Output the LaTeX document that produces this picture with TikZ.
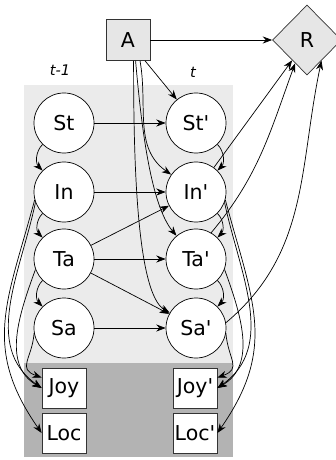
\documentclass[tikz,border=0pt]{standalone}
\usepackage{fontspec}
\setmainfont{DejaVu Sans}[ItalicFont={DejaVu Sans Oblique}]
\usepackage{xcolor}
\usetikzlibrary{arrows.meta, shapes.geometric}
\definecolor{slicegray}{RGB}{235,235,235}
\definecolor{obsgray}{RGB}{179,179,179}
\definecolor{nodegray}{RGB}{230,230,230}
\definecolor{darkgray}{RGB}{51,51,51}
\newcommand{\pr}{\textquotesingle}

\begin{document}
\begin{tikzpicture}[x=0.03cm, y=-0.03cm, >=Stealth,
  state/.style={circle, draw, fill=white, minimum size=1.8cm, inner sep=0pt,
    line width=0.6pt, font=\fontsize{17.5}{20}\selectfont},
  obs/.style={rectangle, draw=darkgray, fill=white, minimum width=1.32cm,
    minimum height=1.2cm, inner sep=0pt, line width=0.6pt, font=\fontsize{17.5}{20}\selectfont},
  arr/.style={-{Stealth[length=8pt, width=6pt]}, line width=0.6pt}]

\useasboundingbox (0,0) rectangle (335,460);

%% time slices
\fill[slicegray] (24,85) rectangle (233,363);
\fill[obsgray] (24,363) rectangle (233,457);
\node[font=\fontsize{12.5}{15}\selectfont\itshape] (prev) at (60,70) {t-1};
\node[font=\fontsize{12.5}{15}\selectfont\itshape] (curr) at (193,72) {t};

%% action and reward
\node[rectangle, draw=darkgray, fill=nodegray, minimum width=1.32cm, minimum height=1.23cm,
      inner sep=0pt, line width=0.6pt, font=\fontsize{17.5}{20}\selectfont] (act) at (128,40) {A};
\node[diamond, draw=darkgray, fill=nodegray, minimum width=2.07cm, minimum height=2.1cm,
      inner sep=0pt, line width=0.6pt, font=\fontsize{17.5}{20}\selectfont] (rew) at (307,40) {R};

%% hidden states, slice t-1
\node[state] (st0) at (64,123) {St};
\node[state] (in0) at (64,192) {In};
\node[state] (ta0) at (64,259) {Ta};
\node[state] (sa0) at (64,328) {Sa};
%% hidden states, slice t
\node[state] (st1) at (196,123) {St\pr};
\node[state] (in1) at (196,192) {In\pr};
\node[state] (ta1) at (196,259) {Ta\pr};
\node[state] (sa1) at (196,328) {Sa\pr};

%% observations
\node[obs] (joy0) at (64,388) {Joy};
\node[obs] (loc0) at (64,433) {Loc};
\node[obs] (joy1) at (195,388) {Joy\pr};
\node[obs] (loc1) at (195,433) {Loc\pr};

%% action
\draw[arr] (act) -- (rew);
\draw[arr] (act) -- (st1);
\draw[arr] (act.-60) to[out=-80, in=145] (in1);
\draw[arr] (act.-70) to[out=-85, in=130, out distance=2cm, in distance=1.2cm] (ta1);
\draw[arr] (act.-75) to[out=-90, in=150, out distance=2.5cm, in distance=1.2cm] (sa1);

%% transitions t-1 -> t
\draw[arr] (st0) -- (st1);
\draw[arr] (in0) -- (in1);
\draw[arr] (ta0) -- (ta1);
\draw[arr] (sa0) -- (sa1);
\draw[arr] (ta0) -- (in1);
\draw[arr] (ta0) -- (sa1);

%% within slice t-1
\draw[arr] (st0) to[bend right=45] (in0);
\draw[arr] (in0) to[bend right=45] (ta0);
\draw[arr] (ta0) to[bend right=45] (sa0);
\draw[arr] (in0.195) to[out=255, in=125, looseness=1.15] (loc0.west);
\draw[arr] (in0.200) to[out=258, in=145] (joy0.west);
\draw[arr] (ta0.200) to[out=250, in=150] (joy0.west);
\draw[arr] (sa0.190) to[out=265, in=160, looseness=1.5] (joy0.155);

%% within slice t
\draw[arr] (st1) to[bend left=45] (in1);
\draw[arr] (in1) to[bend left=45] (ta1);
\draw[arr] (ta1) to[bend left=45] (sa1);
\draw[arr] (in1.345) to[out=285, in=55, looseness=1.15] (loc1.east);
\draw[arr] (in1.340) to[out=282, in=35] (joy1.east);
\draw[arr] (ta1.340) to[out=290, in=30] (joy1.east);
\draw[arr] (sa1.350) to[out=275, in=20, looseness=1.5] (joy1.25);

%% reward
\draw[arr] (in1) -- (rew);
\draw[arr] (ta1.60) to[out=50, in=250] (rew.243);
\draw[arr] (sa1.10) to[out=40, in=258] (rew.-55);
\end{tikzpicture}
\end{document}
